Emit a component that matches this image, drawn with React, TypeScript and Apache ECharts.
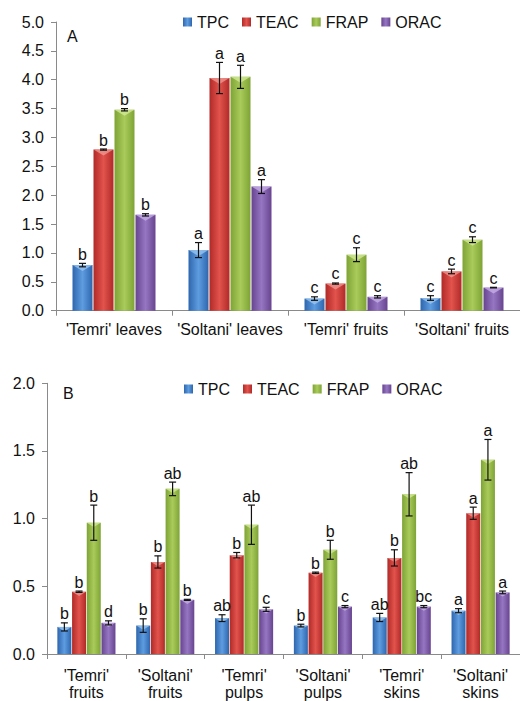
import React, { useEffect, useRef } from "react";
import * as echarts from "echarts";

const SERIES_NAMES = ["TPC", "TEAC", "FRAP", "ORAC"];

// Panel A
const catsA = ["'Temri' leaves", "'Soltani' leaves", "'Temri' fruits", "'Soltani' fruits"];
const tpcA = [0.79, 1.05, 0.21, 0.22];
const tpcErrA = [0.03, 0.13, 0.03, 0.04];
const teacA = [2.79, 4.03, 0.47, 0.68];
const teacErrA = [0.01, 0.27, 0.01, 0.04];
const frapA = [3.48, 4.05, 0.97, 1.23];
const frapErrA = [0.02, 0.2, 0.12, 0.05];
const oracA = [1.66, 2.15, 0.24, 0.4];
const oracErrA = [0.02, 0.12, 0.02, 0.005];
const tpcLetA = ["b", "a", "c", "c"];
const teacLetA = ["b", "a", "c", "c"];
const frapLetA = ["b", "a", "c", "c"];
const oracLetA = ["b", "a", "c", "c"];
const ticksA = [0, 5, 0.5];

// Panel B
const catsB = [
  "'Temri'\nfruits",
  "'Soltani'\nfruits",
  "'Temri'\npulps",
  "'Soltani'\npulps",
  "'Temri'\nskins",
  "'Soltani'\nskins",
];
const tpcB = [0.2, 0.21, 0.265, 0.21, 0.27, 0.32];
const tpcErrB = [0.03, 0.05, 0.025, 0.01, 0.03, 0.015];
const teacB = [0.46, 0.68, 0.73, 0.6, 0.71, 1.04];
const teacErrB = [0.005, 0.045, 0.02, 0.005, 0.06, 0.045];
const frapB = [0.97, 1.22, 0.955, 0.77, 1.18, 1.435];
const frapErrB = [0.13, 0.05, 0.145, 0.07, 0.16, 0.15];
const oracB = [0.23, 0.4, 0.33, 0.35, 0.35, 0.455];
const oracErrB = [0.015, 0.004, 0.015, 0.008, 0.008, 0.01];
const tpcLetB = ["b", "b", "ab", "b", "ab", "a"];
const teacLetB = ["b", "b", "b", "b", "b", "a"];
const frapLetB = ["b", "ab", "ab", "b", "ab", "a"];
const oracLetB = ["d", "b", "c", "c", "bc", "a"];
const ticksB = [0, 2, 0.5];

const FONT = '"Liberation Sans", Arial, sans-serif';
const EDGE = ["#2e66ad", "#b02a27", "#7ea335", "#67448f"];
const MID = ["#5e9ce0", "#e2534d", "#a9cb5b", "#9676c3"];
const HL = ["#9cc8f2", "#f29a94", "#d6ec9a", "#c9b2ea"];

function grad(i: number) {
  return new echarts.graphic.LinearGradient(0, 0, 1, 0, [
    { offset: 0, color: EDGE[i] },
    { offset: 0.5, color: MID[i] },
    { offset: 1, color: EDGE[i] },
  ]);
}

export default function App() {
  const ref = useRef<HTMLDivElement>(null);
  useEffect(() => {
    document.body.style.margin = "0";
    const chart = echarts.init(ref.current!, null, { renderer: "svg" });

    const panels = [
      {
        vals: [tpcA, teacA, frapA, oracA],
        errs: [tpcErrA, teacErrA, frapErrA, oracErrA],
        lets: [tpcLetA, teacLetA, frapLetA, oracLetA],
        bw: 20,
      },
      {
        vals: [tpcB, teacB, frapB, oracB],
        errs: [tpcErrB, teacErrB, frapErrB, oracErrB],
        lets: [tpcLetB, teacLetB, frapLetB, oracLetB],
        bw: 14,
      },
    ];

    const series: any[] = [];
    panels.forEach((p, g) => {
      p.vals.forEach((vals, i) => {
        series.push({
          type: "bar",
          name: SERIES_NAMES[i],
          xAxisIndex: g,
          yAxisIndex: g,
          data: vals,
          barWidth: p.bw,
          barGap: "5%",
          itemStyle: { color: grad(i) },
        });
      });
      p.vals.forEach((vals, i) => {
        const off = (i - 1.5) * p.bw * 1.05;
        const errs = p.errs[i];
        const lets = p.lets[i];
        series.push({
          type: "custom",
          xAxisIndex: g,
          yAxisIndex: g,
          z: 5,
          silent: true,
          data: vals.map((v, k) => [k, v, errs[k]]),
          renderItem: (params: any, api: any) => {
            const k = api.value(0);
            const v = api.value(1);
            const e = api.value(2);
            const base = api.coord([k, v]);
            const x = base[0] + off;
            const yv = base[1];
            const yt = api.coord([k, v + e])[1];
            const yb = api.coord([k, v - e])[1];
            const hw = p.bw / 2;
            const cap = 3.5;
            return {
              type: "group",
              children: [
                {
                  type: "polygon",
                  shape: { points: [[x - hw, yv], [x + hw, yv], [x, yv + p.bw * 0.3]] },
                  style: { fill: HL[i], opacity: 0.75 },
                },
                { type: "line", shape: { x1: x, y1: yt, x2: x, y2: yb }, style: { stroke: "#111", lineWidth: 1.2 } },
                { type: "line", shape: { x1: x - cap, y1: yt, x2: x + cap, y2: yt }, style: { stroke: "#111", lineWidth: 1.2 } },
                { type: "line", shape: { x1: x - cap, y1: yb, x2: x + cap, y2: yb }, style: { stroke: "#111", lineWidth: 1.2 } },
                {
                  type: "text",
                  x: x,
                  y: yt - 1,
                  style: {
                    text: lets[params.dataIndex],
                    textAlign: "center",
                    textVerticalAlign: "bottom",
                    font: `16px ${FONT}`,
                    fill: "#111",
                  },
                },
              ],
            };
          },
        });
      });
    });

    const axisLine = { show: true, lineStyle: { color: "#8a8a8a", width: 1 } };
    const yAxis = (t: number[]) => ({
      type: "value",
      min: t[0],
      max: t[1],
      interval: t[2],
      splitLine: { show: false },
      axisLine,
      axisTick: { show: true, length: 5, lineStyle: { color: "#8a8a8a" } },
      axisLabel: {
        fontSize: 16,
        fontFamily: FONT,
        color: "#111",
        margin: 12,
        formatter: (v: number) => v.toFixed(1),
      },
    });

    const legendBase = {
      data: SERIES_NAMES,
      icon: "rect",
      itemWidth: 9,
      itemHeight: 9,
      itemGap: 13,
      selectedMode: false,
      textStyle: { fontSize: 16, fontFamily: FONT, color: "#111" },
    };

    chart.setOption({
      animation: false,
      textStyle: { fontFamily: FONT },
      grid: [
        { left: 56, top: 22, width: 466, height: 288.7 },
        { left: 47, top: 383.3, width: 480, height: 270.7 },
      ],
      legend: [
        { ...legendBase, left: 178, top: 9 },
        { ...legendBase, left: 179, top: 376 },
      ],
      xAxis: [
        {
          type: "category",
          gridIndex: 0,
          data: catsA,
          axisLine,
          axisTick: { show: true, length: 5, lineStyle: { color: "#8a8a8a" } },
          axisLabel: { fontSize: 16, fontFamily: FONT, color: "#111", margin: 11, lineHeight: 16, interval: 0 },
        },
        {
          type: "category",
          gridIndex: 1,
          data: catsB,
          axisLine,
          axisTick: { show: true, length: 5, lineStyle: { color: "#8a8a8a" } },
          axisLabel: { fontSize: 16, fontFamily: FONT, color: "#111", margin: 13, lineHeight: 17, interval: 0 },
        },
      ],
      yAxis: [
        { ...yAxis(ticksA), gridIndex: 0 },
        { ...yAxis(ticksB), gridIndex: 1 },
      ],
      graphic: [
        { type: "text", left: 67, top: 28, style: { text: "A", font: `16px ${FONT}`, fill: "#111" } },
        { type: "text", left: 63, top: 385, style: { text: "B", font: `16px ${FONT}`, fill: "#111" } },
      ],
      series,
    });
    return () => chart.dispose();
  }, []);
  return <div ref={ref} style={{ width: 520, height: 701 }} />;
}
